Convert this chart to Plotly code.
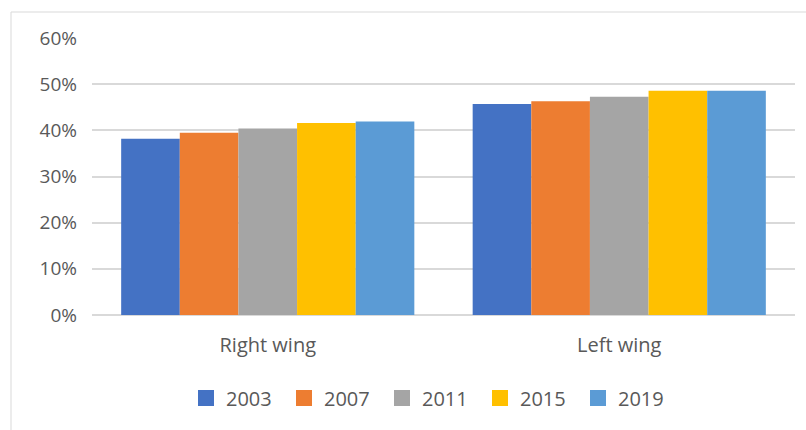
import plotly.graph_objects as go

categories = ["Right wing", "Left wing"]
years = ["2003", "2007", "2011", "2015", "2019"]
values = {
    "2003": [0.382, 0.457],
    "2007": [0.395, 0.463],
    "2011": [0.404, 0.473],
    "2015": [0.416, 0.486],
    "2019": [0.419, 0.486],
}
colors = ["#4472C4", "#ED7D31", "#A5A5A5", "#FFC000", "#5B9BD5"]
tick_vals = [0, 0.1, 0.2, 0.3, 0.4, 0.5, 0.6]
tick_text = ["0%", "10%", "20%", "30%", "40%", "50%", "60%"]

fig = go.Figure()
for y, c in zip(years, colors):
    fig.add_trace(go.Bar(x=categories, y=values[y], name=y, showlegend=False,
                         marker=dict(color=c, line=dict(width=0))))
# legend entries with larger square swatches
for y, c in zip(years, colors):
    fig.add_trace(go.Scatter(x=[None], y=[None], mode="markers", name=y,
                             marker=dict(symbol="square", size=16, color=c)))

W, H = 806, 430
l, r, t, b = 92, 11, 38, 115
pw, ph = W - l - r, H - t - b

def px_x(p):
    return (p - l) / pw

def px_y(p):
    return (H - b - p) / ph

fig.update_layout(
    width=W, height=H,
    margin=dict(l=l, r=r, t=t, b=b, autoexpand=False),
    paper_bgcolor="white", plot_bgcolor="white",
    barmode="group", bargap=0.166, bargroupgap=0,
    font=dict(family="Open Sans", size=19, color="#595959"),
    xaxis=dict(showgrid=False, showline=False, ticks="", ticklabelstandoff=16,
               tickfont=dict(size=20, color="#595959")),
    yaxis=dict(range=[0, 0.6], tickvals=tick_vals, ticktext=tick_text,
               showgrid=True, gridcolor="#D9D9D9", gridwidth=1.5,
               zeroline=True, zerolinecolor="#D9D9D9", zerolinewidth=1.5,
               showline=False, ticks="", ticklabelstandoff=14,
               tickfont=dict(size=19, color="#595959")),
    legend=dict(orientation="h", x=px_x(186), xanchor="left", y=px_y(398), yanchor="middle",
                entrywidth=53, entrywidthmode="pixels", itemsizing="trace",
                font=dict(size=20, color="#595959"), traceorder="normal"),
    showlegend=True,
    shapes=[dict(type="rect", xref="paper", yref="paper",
                 x0=px_x(11), x1=px_x(812), y0=px_y(436), y1=px_y(12),
                 line=dict(color="#D9D9D9", width=1), fillcolor="rgba(0,0,0,0)", layer="below")],
)

fig.write_html("out.html")
